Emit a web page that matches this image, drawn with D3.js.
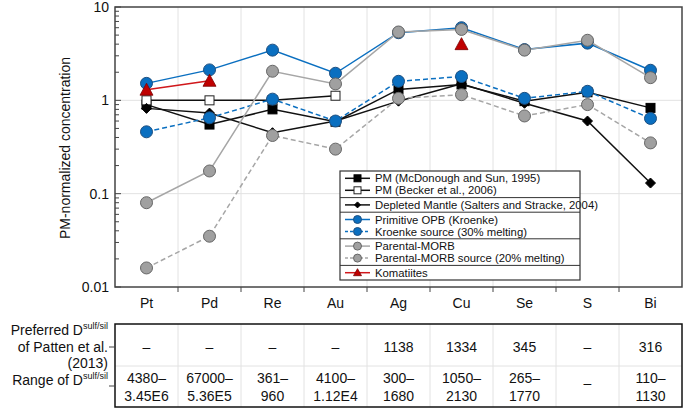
<!DOCTYPE html>
<html><head><meta charset="utf-8">
<script src="https://cdn.jsdelivr.net/npm/d3@7"></script>
<style>body{margin:0;background:#fff}svg{display:block;font-family:"Liberation Sans",Arial,sans-serif}</style>
</head><body><svg id="c" width="685" height="408"></svg>
<script>
const elements = ["Pt","Pd","Re","Au","Ag","Cu","Se","S","Bi"];
const pmMcD      = [0.9, 0.55, 0.8, 0.59, 1.31, 1.48, 0.98, 1.22, 0.83];
const pmBecker   = [1.0, 1.0, 1.0, 1.12, null, null, null, null, null];
const depleted   = [0.82, 0.73, 0.45, 0.6, 0.98, 1.5, 0.93, 0.6, 0.13];
const primOPB    = [1.52, 2.12, 3.45, 1.95, 5.3, 6.0, 3.5, 4.1, 2.1];
const kroenkeSrc = [0.46, 0.65, 1.03, 0.6, 1.6, 1.8, 1.05, 1.25, 0.64];
const morb       = [0.08, 0.175, 2.05, 1.5, 5.4, 5.75, 3.45, 4.4, 1.75];
const morbSrc    = [0.016, 0.035, 0.42, 0.3, 1.05, 1.15, 0.68, 0.9, 0.35];
const komLine    = [1.3, 1.62, null, null, null, null, null, null, null];
const komCu      = [null, null, null, null, null, 4.0, null, null, null];
const yTicks = [10, 1, 0.1, 0.01];
const yTickLabels = ["10","1","0.1","0.01"];
const preferredD = ["–","–","–","–","1138","1334","345","–","316"];
const rangeD = [["4380–","3.45E6"],["67000–","5.36E5"],["361–","960"],["4100–","1.12E4"],["300–","1680"],["1050–","2130"],["265–","1770"],["–"],["110–","1130"]];

const svg = d3.select("#c");
const L = 115, R = 682, T = 7, B = 287;
const x = d3.scaleBand().domain(elements).range([L, R]);
const y = d3.scaleLog().domain([0.01, 10]).range([B, T]);
const cx = e => x(e) + x.bandwidth()/2;

// grid
const grid = svg.append("g").attr("stroke","#e2e2e2").attr("stroke-width",1);
elements.slice(1).forEach(e => grid.append("line").attr("x1",x(e)).attr("x2",x(e)).attr("y1",T).attr("y2",B));
[1, 0.1].forEach(v => grid.append("line").attr("x1",L).attr("x2",R).attr("y1",y(v)).attr("y2",y(v)));

// axes
const yAxis = d3.axisLeft(y).tickValues(yTicks).tickFormat((d,i)=>yTickLabels[i]).tickSize(0).tickPadding(6);
const ga = svg.append("g").attr("transform",`translate(${L},0)`).call(yAxis);
ga.select(".domain").remove();
ga.selectAll("text").attr("font-size",14).attr("font-family","Liberation Sans, Arial").attr("fill","#111");
const minor = [];
for (let dec of [0.01,0.1,1]) for (let k=1;k<10;k++) minor.push(dec*k);
minor.push(10);
svg.append("g").selectAll("line").data(minor).join("line")
  .attr("x1",L).attr("x2",d => (Math.abs(Math.log10(d)-Math.round(Math.log10(d)))<1e-9) ? L+6 : L+4)
  .attr("y1",d=>y(d)).attr("y2",d=>y(d)).attr("stroke","#444").attr("stroke-width",1);

const xAxis = d3.axisBottom(x).tickSize(0).tickPadding(11);
const gx = svg.append("g").attr("transform",`translate(0,${B})`).call(xAxis);
gx.select(".domain").remove();
gx.selectAll("text").attr("font-size",14).attr("font-family","Liberation Sans, Arial").attr("fill","#111");
svg.append("g").selectAll("line").data(elements.slice(1)).join("line")
  .attr("x1",d=>x(d)).attr("x2",d=>x(d)).attr("y1",B).attr("y2",B+5).attr("stroke","#444");

svg.append("rect").attr("x",L).attr("y",T).attr("width",R-L).attr("height",B-T)
  .attr("fill","none").attr("stroke","#444").attr("stroke-width",1.5);

svg.append("text").attr("transform",`translate(70,148) rotate(-90)`).attr("text-anchor","middle")
  .attr("font-size",14).attr("fill","#111").text("PM-normalized concentration");

// series
const BLUE="#0a6fc0", BLUE_S="#1d4f80", GRAY="#a6a6a6", GRAY_F="#a0a0a0", GRAY_S="#666", RED="#d0171b", RED_F="#c00000";
const series = [
  {v:pmMcD, line:"#111", dash:null, m:"square", fill:"#000", stroke:"#000", size:9},
  {v:pmBecker, line:"#111", dash:null, m:"square", fill:"#fff", stroke:"#222", size:9},
  {v:depleted, line:"#111", dash:null, m:"diamond", fill:"#000", stroke:"#000", size:10},
  {v:kroenkeSrc, line:BLUE, dash:"5,3", m:"circle", fill:BLUE, stroke:BLUE_S, size:12},
  {v:primOPB, line:BLUE, dash:null, m:"circle", fill:BLUE, stroke:BLUE_S, size:12},
  {v:morbSrc, line:GRAY, dash:"5,3", m:"circle", fill:GRAY_F, stroke:GRAY_S, size:12},
  {v:morb, line:GRAY, dash:null, m:"circle", fill:GRAY_F, stroke:GRAY_S, size:12},
  {v:komLine, line:RED, dash:null, m:"triangle", fill:RED_F, stroke:"#7a0000", size:11},
  {v:komCu, line:null, dash:null, m:"triangle", fill:RED_F, stroke:"#7a0000", size:11},
];
function marker(g, type, px, py, s, fill, stroke){
  if (type==="circle") g.append("circle").attr("cx",px).attr("cy",py).attr("r",s/2).attr("fill",fill).attr("stroke",stroke).attr("stroke-width",1);
  else if (type==="square") g.append("rect").attr("x",px-s/2).attr("y",py-s/2).attr("width",s).attr("height",s).attr("fill",fill).attr("stroke",stroke).attr("stroke-width",1);
  else if (type==="diamond") g.append("path").attr("d",`M${px},${py-s/2}L${px+s/2},${py}L${px},${py+s/2}L${px-s/2},${py}Z`).attr("fill",fill).attr("stroke",stroke);
  else if (type==="triangle") g.append("path").attr("d",`M${px},${py-s/2-1}L${px+s/2+1},${py+s/2}L${px-s/2-1},${py+s/2}Z`).attr("fill",fill).attr("stroke",stroke).attr("stroke-width",0.8);
}
const lineGen = d3.line().defined(d=>d[1]!=null).x(d=>cx(d[0])).y(d=>y(d[1]));
series.forEach(s => {
  const g = svg.append("g");
  const pts = elements.map((e,i)=>[e, s.v[i]]);
  if (s.line) g.append("path").attr("d",lineGen(pts)).attr("fill","none").attr("stroke",s.line)
    .attr("stroke-width",1.5).attr("stroke-dasharray",s.dash);
  pts.filter(p=>p[1]!=null).forEach(p => marker(g, s.m, cx(p[0]), y(p[1]), s.size, s.fill, s.stroke));
});

// legend
const legend = [
  [{label:"PM (McDonough and Sun, 1995)", line:"#111", m:"square", fill:"#000", stroke:"#000", size:7},
   {label:"PM (Becker et al., 2006)", line:"#111", m:"square", fill:"#fff", stroke:"#222", size:7}],
  [{label:"Depleted Mantle (Salters and Stracke, 2004)", line:"#111", m:"diamond", fill:"#000", stroke:"#000", size:6}],
  [{label:"Primitive OPB (Kroenke)", line:BLUE, m:"circle", fill:BLUE, stroke:BLUE_S, size:8},
   {label:"Kroenke source (30% melting)", line:BLUE, dash:"3,2", m:"circle", fill:BLUE, stroke:BLUE_S, size:8}],
  [{label:"Parental-MORB", line:GRAY, m:"circle", fill:GRAY_F, stroke:GRAY_S, size:8},
   {label:"Parental-MORB source (20% melting)", line:GRAY, dash:"3,2", m:"circle", fill:GRAY_F, stroke:GRAY_S, size:8}],
  [{label:"Komatiites", line:RED, m:"triangle", fill:RED_F, stroke:"#7a0000", size:6}]
];
const lg = svg.append("g");
const LX = 340, LW = 240, LT = 171;
const rowH = 12, pad = 1.3;
let ly = LT;
const bg = lg.append("rect").attr("x",LX).attr("y",LT).attr("width",LW).attr("fill","#fff");
legend.forEach((grp, gi) => {
  const top = ly;
  grp.forEach((it, ii) => {
    const yy = top + pad + rowH/2 + ii*rowH;
    lg.append("line").attr("x1",LX+5).attr("x2",LX+30).attr("y1",yy).attr("y2",yy).attr("stroke",it.line).attr("stroke-width",1.5).attr("stroke-dasharray",it.dash||null);
    marker(lg, it.m, LX+17.5, yy, it.size, it.fill, it.stroke);
    lg.append("text").attr("x",LX+35).attr("y",yy+4).attr("font-size",11.3).attr("fill","#111").text(it.label);
  });
  ly = top + grp.length*rowH + 2*pad;
  if (gi < legend.length-1) lg.append("line").attr("x1",LX).attr("x2",LX+LW).attr("y1",ly).attr("y2",ly).attr("stroke","#333").attr("stroke-width",1);
});
bg.attr("height",ly-LT);
lg.append("rect").attr("x",LX).attr("y",LT).attr("width",LW).attr("height",ly-LT).attr("fill","none").attr("stroke","#333").attr("stroke-width",1.2);

// table
const TT = 324, TB = 407, TM = 366;
const tg = svg.append("g");
elements.slice(1).forEach(e => tg.append("line").attr("x1",x(e)).attr("x2",x(e)).attr("y1",TT).attr("y2",TB).attr("stroke","#e2e2e2"));
tg.append("line").attr("x1",L).attr("x2",R).attr("y1",TM).attr("y2",TM).attr("stroke","#e2e2e2");
tg.append("rect").attr("x",L).attr("y",TT).attr("width",R-L).attr("height",TB-TT).attr("fill","none").attr("stroke","#111").attr("stroke-width",1.5);
[347, 386].forEach(v => tg.append("line").attr("x1",L-6).attr("x2",L).attr("y1",v).attr("y2",v).attr("stroke","#444"));
elements.forEach((e,i) => {
  tg.append("text").attr("x",cx(e)).attr("y",352).attr("text-anchor","middle").attr("font-size",14).attr("fill","#111").text(preferredD[i]);
  const r = rangeD[i];
  if (r.length===1) tg.append("text").attr("x",cx(e)).attr("y",388).attr("text-anchor","middle").attr("font-size",14).attr("fill","#111").text(r[0]);
  else r.forEach((t,k)=> tg.append("text").attr("x",cx(e)).attr("y",383+k*18).attr("text-anchor","middle").attr("font-size",14).attr("fill","#111").text(t));
});
function dLabel(yy, prefix){
  const t = tg.append("text").attr("x",108).attr("y",yy).attr("text-anchor","end").attr("font-size",14).attr("fill","#111");
  t.append("tspan").text(prefix);
  t.append("tspan").attr("font-size",9).attr("dy",-6).text("sulf/sil");
}
dLabel(335, "Preferred D");
tg.append("text").attr("x",108).attr("y",352).attr("text-anchor","end").attr("font-size",14).attr("fill","#111").text("of Patten et al.");
tg.append("text").attr("x",108).attr("y",368).attr("text-anchor","end").attr("font-size",14).attr("fill","#111").text("(2013)");
dLabel(385, "Range of D");
</script></body></html>
